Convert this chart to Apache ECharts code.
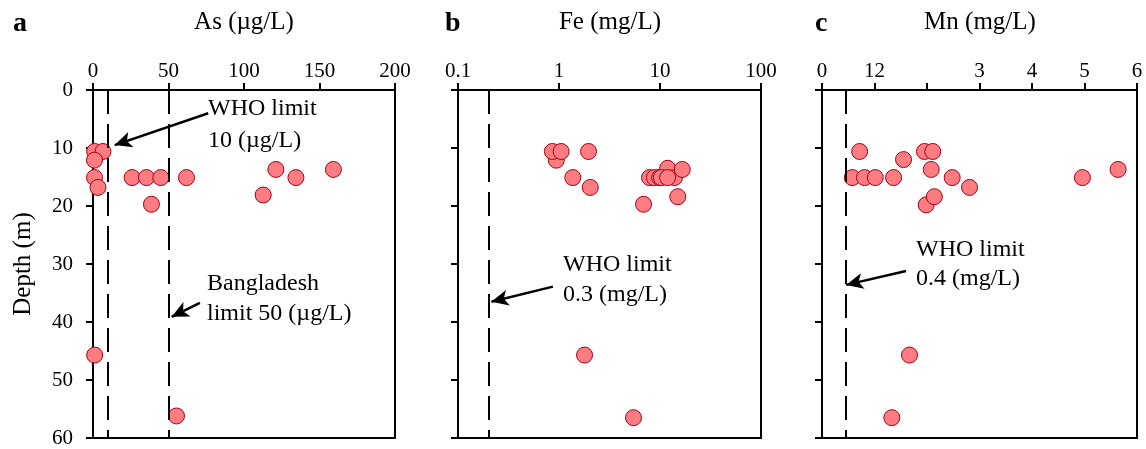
<!DOCTYPE html>
<html><head><meta charset="utf-8">
<script src="https://cdn.jsdelivr.net/npm/echarts@6/dist/echarts.min.js"></script>
<style>html,body{margin:0;padding:0;background:#fff}#c{width:1146px;height:449px}</style>
</head><body><div id="c"></div>
<script>
// ---- data ----
const asValues = [1.1, 6.6, 1.0, 1.0, 3.3, 25.9, 35.4, 44.9, 61.9, 38.7, 112.7, 121.1, 134.4, 159.2, 1.1, 55.3];
const asDepths = [10.6, 10.6, 12.1, 15.1, 16.8, 15.1, 15.1, 15.1, 15.1, 19.7, 18.1, 13.7, 15.1, 13.7, 45.7, 56.2];
const feValues = [0.94, 0.86, 1.05, 1.96, 1.37, 2.04, 6.87, 7.87, 8.8, 9.9, 11.9, 13.9, 10.3, 11.9, 16.6, 15.0, 1.79, 5.47];
const feDepths = [12.1, 10.6, 10.6, 10.6, 15.1, 16.8, 19.7, 15.1, 15.1, 15.1, 13.5, 15.1, 15.1, 15.1, 13.7, 18.4, 45.7, 56.5];
const mnValues = [0.717, 0.577, 0.81, 1.015, 1.363, 1.553, 1.952, 2.11, 2.08, 2.48, 2.81, 1.985, 2.14, 4.96, 5.64, 1.667, 1.33];
const mnDepths = [10.6, 15.1, 15.1, 15.1, 15.1, 12.0, 10.6, 10.6, 13.7, 15.1, 16.8, 19.8, 18.4, 15.1, 13.7, 45.7, 56.5];
const depthTicks = [0, 10, 20, 30, 40, 50, 60];
const asTickLabels = ['0', '50', '100', '150', '200'];
const feTickLabels = ['0.1', '1', '10', '100'];
const mnTickLabels = ['0', '12', '', '3', '4', '5', '6'];
const asLimits = [10, 50];
const feLimit = 0.2;
const mnLimit = 0.46;
// arrows: [startX, startDepth, endX, endDepth]
const asWhoArrow = [76.3, 4.0, 14.4, 9.5];
const asBdArrow = [70.8, 36.7, 52.1, 39.1];
const feArrow = [0.87, 33.9, 0.214, 36.5];
const mnArrow = [1.6, 31.2, 0.46, 33.6];

const FONT = "'Liberation Serif','Times New Roman',serif";
const grids = [
  {left: 93, top: 90, width: 302, height: 348},
  {left: 458, top: 90, width: 303, height: 348},
  {left: 822, top: 90, width: 315, height: 348}
];
function xBase(extra) {
  return Object.assign({
    position: 'top',
    axisLine: {show: true, onZero: false, lineStyle: {color: '#000', width: 2}},
    axisTick: {show: true, inside: false, length: 7, lineStyle: {color: '#000', width: 2}},
    splitLine: {show: false}
  }, extra);
}
function xLabel(fmt) {
  return {margin: 8, fontFamily: FONT, fontSize: 21, color: '#000', formatter: fmt};
}
function yBase(i) {
  return {
    gridIndex: i, type: 'value', inverse: true, min: 0, max: 60, interval: 10,
    axisLine: {show: true, onZero: false, lineStyle: {color: '#000', width: 2}},
    axisTick: {show: true, inside: false, length: 7, lineStyle: {color: '#000', width: 2}},
    axisLabel: {show: i === 0, margin: 20, fontFamily: FONT, fontSize: 21, color: '#000',
      formatter: v => depthTicks.indexOf(v) >= 0 ? String(v) : ''},
    splitLine: {show: false}
  };
}
const dotStyle = {color: '#FF7C80', borderColor: '#A00018', borderWidth: 1, opacity: 1};
const dashStyle = {color: '#000', width: 2, type: [24, 10]};
function scatter(i, xs, ys, vlines, arrows) {
  return {
    type: 'scatter', xAxisIndex: i, yAxisIndex: i, clip: false,
    symbol: 'circle', symbolSize: 16, itemStyle: dotStyle,
    data: xs.map((x, k) => [x, ys[k]]),
    markLine: {
      silent: true, animation: false,
      symbol: ['none', 'none'],
      label: {show: false},
      lineStyle: dashStyle,
      data: vlines.map(v => ({xAxis: v}))
        .concat(arrows.map(a => [
          {coord: [a[0], a[1]], symbol: 'none', lineStyle: {color: '#000', width: 2.5, type: 'solid'}},
          {coord: [a[2], a[3]], symbol: 'arrow', symbolSize: [12, 17]}
        ]))
    }
  };
}
function txt(x, y, s, size, opts) {
  return {type: 'text', x: x, y: y, silent: true, rotation: (opts && opts.rot) || 0,
    style: {text: s, fill: '#000', font: (opts && opts.bold ? 'bold ' : '') + size + 'px ' + FONT,
      textAlign: (opts && opts.align) || 'left', textVerticalAlign: 'middle'}};
}

const chart = echarts.init(document.getElementById('c'), null, {renderer: 'canvas'});
chart.setOption({
  animation: false,
  backgroundColor: '#fff',
  grid: grids.map(g => Object.assign({show: true, borderColor: '#000', borderWidth: 2, backgroundColor: 'transparent'}, g)),
  xAxis: [
    xBase({gridIndex: 0, type: 'value', min: 0, max: 200, interval: 50,
      axisLabel: xLabel(v => asTickLabels[Math.round(v / 50)])}),
    xBase({gridIndex: 1, type: 'log', logBase: 10, min: 0.1, max: 100,
      axisLabel: xLabel(v => feTickLabels[Math.round(Math.log10(v)) + 1])}),
    xBase({gridIndex: 2, type: 'value', min: 0, max: 6, interval: 1,
      axisLabel: xLabel(v => mnTickLabels[Math.round(v)])})
  ],
  yAxis: [yBase(0), yBase(1), yBase(2)],
  series: [
    scatter(0, asValues, asDepths, asLimits, [asWhoArrow, asBdArrow]),
    scatter(1, feValues, feDepths, [feLimit], [feArrow]),
    scatter(2, mnValues, mnDepths, [mnLimit], [mnArrow])
  ],
  graphic: [
    txt(13, 24, 'a', 28, {bold: true}),
    txt(445, 24, 'b', 28, {bold: true}),
    txt(815, 24, 'c', 28, {bold: true}),
    txt(244, 22, 'As (µg/L)', 25, {align: 'center'}),
    txt(610, 22, 'Fe (mg/L)', 25, {align: 'center'}),
    txt(980, 22, 'Mn (mg/L)', 25, {align: 'center'}),
    txt(23, 264, 'Depth (m)', 25, {align: 'center', rot: Math.PI / 2}),
    txt(208, 109, 'WHO limit', 24),
    txt(208, 141, '10 (µg/L)', 24),
    txt(207, 284, 'Bangladesh', 24),
    txt(207, 314, 'limit 50 (µg/L)', 24),
    txt(563, 265, 'WHO limit', 24),
    txt(563, 295, '0.3 (mg/L)', 24),
    txt(916, 250, 'WHO limit', 24),
    txt(916, 279, '0.4 (mg/L)', 24)
  ]
});
</script></body></html>
